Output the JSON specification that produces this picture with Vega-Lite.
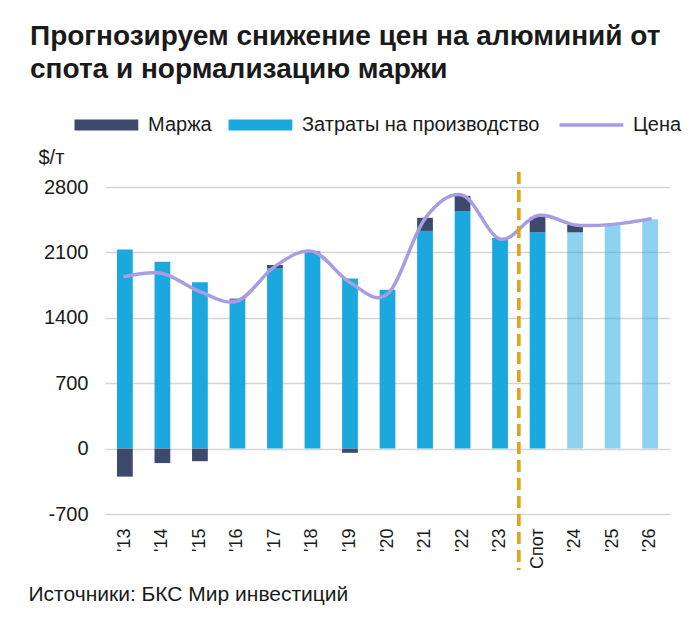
{
  "$schema": "https://vega.github.io/schema/vega-lite/v6.json",
  "width": 565,
  "height": 327,
  "autosize": {"type": "none"},
  "padding": {"left": 105, "top": 187, "right": 30, "bottom": 103},
  "background": "white",
  "title": {
    "text": ["Прогнозируем снижение цен на алюминий от", "спота и нормализацию маржи"],
    "anchor": "start",
    "frame": "group",
    "dx": -75,
    "offset": 31,
    "fontSize": 28,
    "fontWeight": "bold",
    "font": "Liberation Sans",
    "color": "#1a1a1a",
    "lineHeight": 33
  },
  "datasets": {
    "bars": [
      {"period": "'13", "series": "Затраты на производство", "value": 2130, "forecast": false},
      {"period": "'13", "series": "Маржа", "value": -300, "forecast": false},
      {"period": "'14", "series": "Затраты на производство", "value": 2000, "forecast": false},
      {"period": "'14", "series": "Маржа", "value": -155, "forecast": false},
      {"period": "'15", "series": "Затраты на производство", "value": 1780, "forecast": false},
      {"period": "'15", "series": "Маржа", "value": -135, "forecast": false},
      {"period": "'16", "series": "Затраты на производство", "value": 1600, "forecast": false},
      {"period": "'16", "series": "Маржа", "value": 5, "forecast": false},
      {"period": "'17", "series": "Затраты на производство", "value": 1930, "forecast": false},
      {"period": "'17", "series": "Маржа", "value": 35, "forecast": false},
      {"period": "'18", "series": "Затраты на производство", "value": 2100, "forecast": false},
      {"period": "'18", "series": "Маржа", "value": 10, "forecast": false},
      {"period": "'19", "series": "Затраты на производство", "value": 1820, "forecast": false},
      {"period": "'19", "series": "Маржа", "value": -45, "forecast": false},
      {"period": "'20", "series": "Затраты на производство", "value": 1700, "forecast": false},
      {"period": "'20", "series": "Маржа", "value": 0, "forecast": false},
      {"period": "'21", "series": "Затраты на производство", "value": 2330, "forecast": false},
      {"period": "'21", "series": "Маржа", "value": 140, "forecast": false},
      {"period": "'22", "series": "Затраты на производство", "value": 2540, "forecast": false},
      {"period": "'22", "series": "Маржа", "value": 165, "forecast": false},
      {"period": "'23", "series": "Затраты на производство", "value": 2255, "forecast": false},
      {"period": "'23", "series": "Маржа", "value": 0, "forecast": false},
      {"period": "Спот", "series": "Затраты на производство", "value": 2315, "forecast": false},
      {"period": "Спот", "series": "Маржа", "value": 165, "forecast": false},
      {"period": "'24", "series": "Затраты на производство", "value": 2315, "forecast": true},
      {"period": "'24", "series": "Маржа", "value": 80, "forecast": true},
      {"period": "'25", "series": "Затраты на производство", "value": 2390, "forecast": true},
      {"period": "'25", "series": "Маржа", "value": 0, "forecast": true},
      {"period": "'26", "series": "Затраты на производство", "value": 2455, "forecast": true},
      {"period": "'26", "series": "Маржа", "value": 0, "forecast": true}
    ],
    "price": [
      {"period": "'13", "price": 1842},
      {"period": "'14", "price": 1874},
      {"period": "'15", "price": 1680},
      {"period": "'16", "price": 1580},
      {"period": "'17", "price": 1950},
      {"period": "'18", "price": 2111},
      {"period": "'19", "price": 1777},
      {"period": "'20", "price": 1655},
      {"period": "'21", "price": 2462},
      {"period": "'22", "price": 2712},
      {"period": "'23", "price": 2243},
      {"period": "Спот", "price": 2494},
      {"period": "'24", "price": 2394},
      {"period": "'25", "price": 2400},
      {"period": "'26", "price": 2459}
    ]
  },
  "encoding": {
    "x": {
      "field": "period",
      "type": "nominal",
      "sort": null,
      "scale": {
        "domain": ["'13", "'14", "'15", "'16", "'17", "'18", "'19", "'20", "'21", "'22", "'23", "Спот", "'24", "'25", "'26"],
        "paddingInner": 0.58,
        "paddingOuter": 0.32
      },
      "axis": {
        "labelAngle": -90,
        "labelFontSize": 18,
        "labelPadding": 14,
        "labelColor": "#1a1a1a",
        "labelFont": "Liberation Sans",
        "domain": false,
        "ticks": false,
        "title": "Источники: БКС Мир инвестиций",
        "titleFont": "Liberation Sans",
        "titleFontSize": 21,
        "titleFontWeight": "normal",
        "titleColor": "#1a1a1a",
        "titleAnchor": "start",
        "titleAlign": "left",
        "titleBaseline": "alphabetic",
        "titleX": -77,
        "titleY": 86
      }
    }
  },
  "layer": [
    {
      "data": {"name": "bars"},
      "mark": {"type": "bar"},
      "encoding": {
        "y": {
          "field": "value",
          "type": "quantitative",
          "stack": "zero",
          "scale": {"domain": [-700, 2800], "nice": false, "zero": false},
          "axis": {
            "values": [-700, 0, 700, 1400, 2100, 2800],
            "labelExpr": "'' + datum.value",
            "labelFontSize": 20,
            "labelFont": "Liberation Sans",
            "labelColor": "#1a1a1a",
            "labelPadding": 17,
            "domain": false,
            "ticks": false,
            "grid": true,
            "gridColor": "#D4D4D4",
            "gridWidth": 1.5,
            "title": "$/т",
            "titleAngle": 0,
            "titleAlign": "left",
            "titleBaseline": "alphabetic",
            "titleFont": "Liberation Sans",
            "titleFontSize": 20,
            "titleFontWeight": "normal",
            "titleColor": "#1a1a1a",
            "titleX": -67,
            "titleY": -24
          }
        },
        "color": {
          "field": "series",
          "type": "nominal",
          "scale": {
            "domain": ["Маржа", "Затраты на производство", "Цена"],
            "range": ["#3E4A6D", "#1BA8DF", "#A69DE2"]
          },
          "legend": {
            "orient": "none",
            "direction": "horizontal",
            "legendX": -35,
            "legendY": -72,
            "title": null,
            "labelFont": "Liberation Sans",
            "labelFontSize": 20,
            "labelColor": "#1a1a1a",
            "labelLimit": 400,
            "labelOffset": 58,
            "columnPadding": 12,
            "symbolSize": 121,
            "symbolType": "M-1,-1H10.6V1H-1Z",
            "symbolStrokeWidth": 0,
            "encode": {
              "symbols": {
                "update": {
                  "shape": {"signal": "datum.value === 'Цена' ? 'M-1,0H10.6' : 'M-1,-1H10.6V1H-1Z'"},
                  "fill": {"signal": "datum.value === 'Маржа' ? '#3E4A6D' : datum.value === 'Цена' ? 'transparent' : '#1BA8DF'"},
                  "stroke": {"signal": "datum.value === 'Цена' ? '#A69DE2' : 'transparent'"},
                  "strokeWidth": {"signal": "datum.value === 'Цена' ? 3.5 : 0"},
                  "opacity": {"value": 1}
                }
              }
            }
          }
        },
        "order": {"field": "series", "sort": "ascending"},
        "opacity": {
          "condition": {"test": "datum.forecast && datum.series === 'Затраты на производство'", "value": 0.5},
          "value": 1
        }
      }
    },
    {
      "data": {"name": "price"},
      "mark": {"type": "line", "interpolate": "cardinal", "strokeWidth": 3.5, "strokeCap": "round"},
      "encoding": {
        "y": {"field": "price", "type": "quantitative"},
        "color": {
          "datum": "Цена",
          "legend": {
            "orient": "none",
            "direction": "horizontal",
            "legendX": -35,
            "legendY": -72,
            "title": null,
            "labelFont": "Liberation Sans",
            "labelFontSize": 20,
            "labelColor": "#1a1a1a",
            "labelLimit": 400,
            "labelOffset": 58,
            "columnPadding": 12,
            "symbolSize": 121,
            "symbolType": "M-1,-1H10.6V1H-1Z",
            "symbolStrokeWidth": 0,
            "encode": {
              "symbols": {
                "update": {
                  "shape": {"signal": "datum.value === 'Цена' ? 'M-1,0H10.6' : 'M-1,-1H10.6V1H-1Z'"},
                  "fill": {"signal": "datum.value === 'Маржа' ? '#3E4A6D' : datum.value === 'Цена' ? 'transparent' : '#1BA8DF'"},
                  "stroke": {"signal": "datum.value === 'Цена' ? '#A69DE2' : 'transparent'"},
                  "strokeWidth": {"signal": "datum.value === 'Цена' ? 3.5 : 0"},
                  "opacity": {"value": 1}
                }
              }
            }
          }
        }
      }
    },
    {
      "data": {"name": "price"},
      "mark": {"type": "rule", "color": "#E3A21E", "strokeWidth": 2.5, "strokeDash": [12, 6]},
      "encoding": {
        "x": {"datum": "Спот", "bandPosition": -0.69},
        "y": {"datum": 2960},
        "y2": {"datum": -1300}
      }
    }
  ],
  "config": {
    "view": {"stroke": null},
    "font": "Liberation Sans"
  }
}
